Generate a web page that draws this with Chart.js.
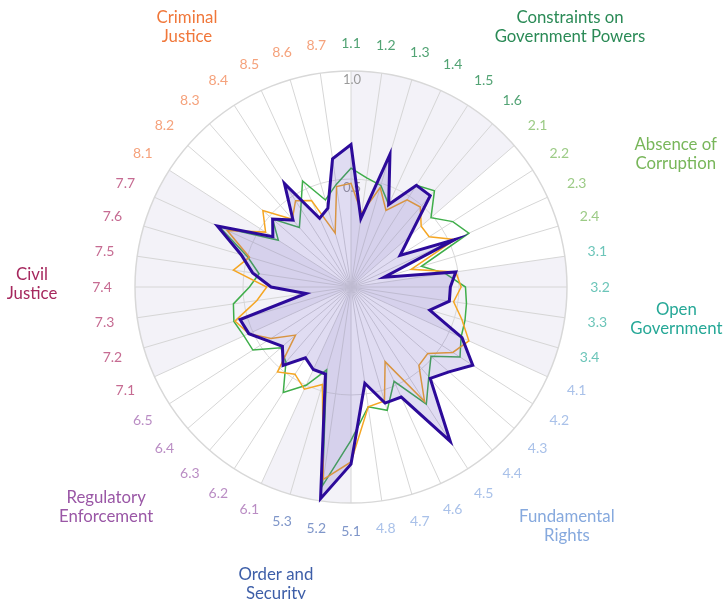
<!DOCTYPE html>
<html lang="en">
<head>
<meta charset="UTF-8">
<title>Rule of Law subfactor scores</title>
<script src="https://cdn.jsdelivr.net/npm/chart.js@4"></script>
<style>
  html, body { margin: 0; padding: 0; background: #fff; }
  canvas { display: block; }
</style>
</head>
<body>
<canvas id="radar" width="724" height="599"></canvas>
<script>
// subfactor codes, clockwise from the top
const subfactors = [
  '1.1', '1.2', '1.3', '1.4', '1.5', '1.6',
  '2.1', '2.2', '2.3', '2.4',
  '3.1', '3.2', '3.3', '3.4',
  '4.1', '4.2', '4.3', '4.4', '4.5', '4.6', '4.7', '4.8',
  '5.1', '5.2', '5.3',
  '6.1', '6.2', '6.3', '6.4', '6.5',
  '7.1', '7.2', '7.3', '7.4', '7.5', '7.6', '7.7',
  '8.1', '8.2', '8.3', '8.4', '8.5', '8.6', '8.7'
];
const factorNames = [
  ['Constraints on', 'Government Powers'],
  ['Absence of', 'Corruption'],
  ['Open', 'Government'],
  ['Fundamental', 'Rights'],
  ['Order and', 'Security'],
  ['Regulatory', 'Enforcement'],
  ['Civil', 'Justice'],
  ['Criminal', 'Justice']
];
const countryScores = [
  0.66, 0.32, 0.64, 0.42, 0.56, 0.56,
  0.36, 0.27, 0.53, 0.16,
  0.49, 0.46, 0.46, 0.38,
  0.565, 0.67, 0.60, 0.56, 0.85, 0.56, 0.56, 0.45,
  0.82, 0.99, 0.42,
  0.42, 0.39, 0.48, 0.42, 0.46,
  0.52, 0.535, 0.21, 0.37, 0.46, 0.53, 0.68,
  0.43, 0.48, 0.41, 0.57, 0.35, 0.38, 0.60
];
const regionScores = [
  0.48, 0.345, 0.48, 0.39, 0.48, 0.49,
  0.43, 0.43, 0.53, 0.29,
  0.49, 0.51, 0.48, 0.535,
  0.60, 0.56, 0.47, 0.48, 0.63, 0.38, 0.55, 0.56,
  0.81, 0.90, 0.47,
  0.52, 0.48, 0.52, 0.34, 0.44,
  0.52, 0.56, 0.44, 0.39, 0.55, 0.49, 0.63,
  0.47, 0.54, 0.415, 0.475, 0.44, 0.26, 0.47
];
const incomeScores = [
  0.55, 0.51, 0.49, 0.42, 0.56, 0.59,
  0.49, 0.56, 0.60, 0.34,
  0.44, 0.53, 0.54, 0.55,
  0.56, 0.60, 0.49, 0.55, 0.645, 0.48, 0.595, 0.56,
  0.71, 0.93, 0.40,
  0.50, 0.58, 0.46, 0.43, 0.54,
  0.545, 0.565, 0.55, 0.47, 0.43, 0.50, 0.67,
  0.40, 0.48, 0.365, 0.43, 0.54, 0.42, 0.48
];
const tickValues = [0.5, 1.0];

const factorColors = ['#2a8a56', '#78b65a', '#26a897', '#86a9de', '#3d5ea8', '#9a57a6', '#a6285e', '#f0773a'];
const subColors = ['#52a374', '#9ccb86', '#6cc5b9', '#a9c1e9', '#7f96c9', '#ba8dc4', '#c66b92', '#f5a27c'];
// where each factor title sits: angle (deg, clockwise from top) and distance from centre
const titlePlace = [[40.1, 340], [67.7, 351], [95.7, 327], [137.9, 322], [194.2, 306], [228.1, 329], [270.6, 319], [327.7, 307]];

const factorOf = s => parseInt(s.split('.')[0], 10) - 1;
const factorStarts = [];
subfactors.forEach((s, i) => { if (i === 0 || factorOf(s) !== factorOf(subfactors[i - 1])) factorStarts.push(i); });

const wheel = {
  id: 'wheel',
  beforeDraw(chart) {
    const r = chart.scales.r, ctx = chart.ctx;
    ctx.save();
    ctx.fillStyle = '#f3f2f8';
    factorStarts.forEach((s, f) => {
      if (f % 2) return;
      const e = factorStarts[f + 1];
      const a0 = r.getIndexAngle(s) - Math.PI / 2;
      const a1 = r.getIndexAngle(e) - Math.PI / 2;
      ctx.beginPath();
      ctx.moveTo(r.xCenter, r.yCenter);
      ctx.arc(r.xCenter, r.yCenter, r.drawingArea, a0, a1);
      ctx.closePath();
      ctx.fill();
    });
    ctx.restore();
  },
  beforeDatasetsDraw(chart) {
    const r = chart.scales.r, ctx = chart.ctx;
    ctx.save();
    ctx.font = '13px Lato, sans-serif';
    ctx.fillStyle = '#9a9a9a';
    ctx.textAlign = 'center';
    ctx.textBaseline = 'middle';
    tickValues.forEach(v => {
      ctx.fillText(v.toFixed(1), r.xCenter + 1, r.yCenter - r.getDistanceFromCenterForValue(v) + 9);
    });
    ctx.restore();
  },
  afterDraw(chart) {
    const r = chart.scales.r, ctx = chart.ctx;
    ctx.save();
    ctx.textAlign = 'center';
    ctx.textBaseline = 'middle';
    ctx.font = '14px Lato, sans-serif';
    subfactors.forEach((s, i) => {
      const side = Math.sin(r.getIndexAngle(i));
      const p = r.getPointPosition(i, r.drawingArea + 28 + 5 * side * side);
      ctx.fillStyle = subColors[factorOf(s)];
      ctx.fillText(s, p.x, p.y);
    });
    ctx.font = '16.8px Lato, sans-serif';
    factorNames.forEach((lines, f) => {
      const [deg, dist] = titlePlace[f];
      const a = deg * Math.PI / 180;
      const x = r.xCenter + dist * Math.sin(a);
      const y = r.yCenter - dist * Math.cos(a);
      ctx.fillStyle = factorColors[f];
      lines.forEach((t, k) => ctx.fillText(t, x, y + (k - (lines.length - 1) / 2) * 19));
    });
    ctx.restore();
  }
};

new Chart(document.getElementById('radar'), {
  type: 'radar',
  data: {
    labels: subfactors,
    datasets: [
      {
        label: 'Country',
        data: countryScores,
        borderColor: '#2c0a9a',
        borderWidth: 3,
        backgroundColor: 'rgba(100, 80, 190, 0.2)',
        fill: true
      },
      {
        label: 'Region',
        data: regionScores,
        borderColor: '#f5a623',
        borderWidth: 1.5,
        fill: false
      },
      {
        label: 'Income group',
        data: incomeScores,
        borderColor: '#3fae4a',
        borderWidth: 1.5,
        fill: false
      }
    ]
  },
  options: {
    responsive: false,
    animation: false,
    layout: { padding: { left: 135, right: 157, top: 71, bottom: 96 } },
    elements: { point: { radius: 0, hoverRadius: 0 }, line: { tension: 0 } },
    plugins: { legend: { display: false }, tooltip: { enabled: false } },
    scales: {
      r: {
        min: 0,
        max: 1,
        ticks: { display: false, stepSize: 0.5 },
        grid: {
          circular: true,
          color: '#d8d8d8',
          lineWidth: c => (c.tick && c.tick.value === 1 ? 1.5 : 1)
        },
        angleLines: { color: '#d6d6d6', lineWidth: 1 },
        pointLabels: { display: false }
      }
    }
  },
  plugins: [wheel]
});
</script>
</body>
</html>
